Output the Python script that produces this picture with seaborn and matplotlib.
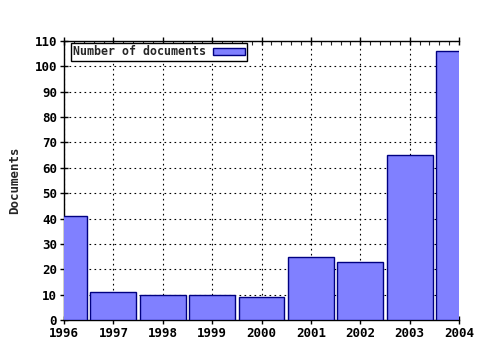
import matplotlib
matplotlib.use("Agg")
import matplotlib.pyplot as plt
import seaborn as sns
import pandas as pd
from matplotlib.ticker import MultipleLocator

years = [1996, 1997, 1998, 1999, 2000, 2001, 2002, 2003, 2004]
documents = [41, 11, 10, 10, 9, 25, 23, 65, 106]
series_label = "Number of documents"
y_label = "Documents"

sns.set_style("white")
plt.rcParams['font.family'] = ['DejaVu Sans Mono', 'DejaVu Sans']

df = pd.DataFrame({"year": years, "docs": documents})

fig = plt.figure(figsize=(4.8, 3.5), dpi=100)
ax = fig.add_axes([64/480, 30/350, (459-64)/480, (320-41)/350])

sns.barplot(data=df, x="year", y="docs", native_scale=True, width=0.93,
            color="#8080ff", saturation=1, edgecolor="#000080", linewidth=1,
            label=series_label, ax=ax, zorder=3)

ax.set_xlim(1996, 2004)
ax.set_ylim(0, 110)
ax.xaxis.set_major_locator(MultipleLocator(1))
ax.xaxis.set_minor_locator(MultipleLocator(0.2))
ax.yaxis.set_major_locator(MultipleLocator(10))
ax.set_xticks(years)
ax.set_xticklabels([str(y) for y in years])

ax.grid(True, which="major", color="black", linestyle=(0, (1.5, 3)), linewidth=0.8, zorder=0)
ax.set_axisbelow(True)

for s in ["left", "bottom", "top"]:
    ax.spines[s].set_visible(True)
    ax.spines[s].set_color("black")
    ax.spines[s].set_linewidth(1)
ax.spines["right"].set_visible(False)

ax.tick_params(axis="x", which="major", direction="inout", length=6, width=1,
               top=True, bottom=True, labelsize=9, pad=2, colors="black")
ax.tick_params(axis="x", which="minor", direction="in", length=3, width=0.8,
               top=True, bottom=True)
ax.tick_params(axis="y", which="major", direction="inout", length=6, width=1,
               left=True, labelsize=9, pad=2, colors="black")
for lab in ax.get_xticklabels() + ax.get_yticklabels():
    lab.set_fontweight("bold")

ax.set_xlabel("")
ax.set_ylabel(y_label, fontsize=9, fontweight="bold", labelpad=10)

leg = ax.legend(loc="upper left", bbox_to_anchor=(7/395, 1 - 2/279),
                frameon=True, fancybox=False, markerfirst=False,
                prop={"size": 8.4, "weight": "bold"}, borderpad=0.2, handlelength=2.7,
                handleheight=0.55, borderaxespad=0, handletextpad=0.6)
leg.get_frame().set_edgecolor("black")
leg.get_frame().set_linewidth(1)
leg.get_frame().set_alpha(1)

fig.savefig("out.png", dpi=100)
